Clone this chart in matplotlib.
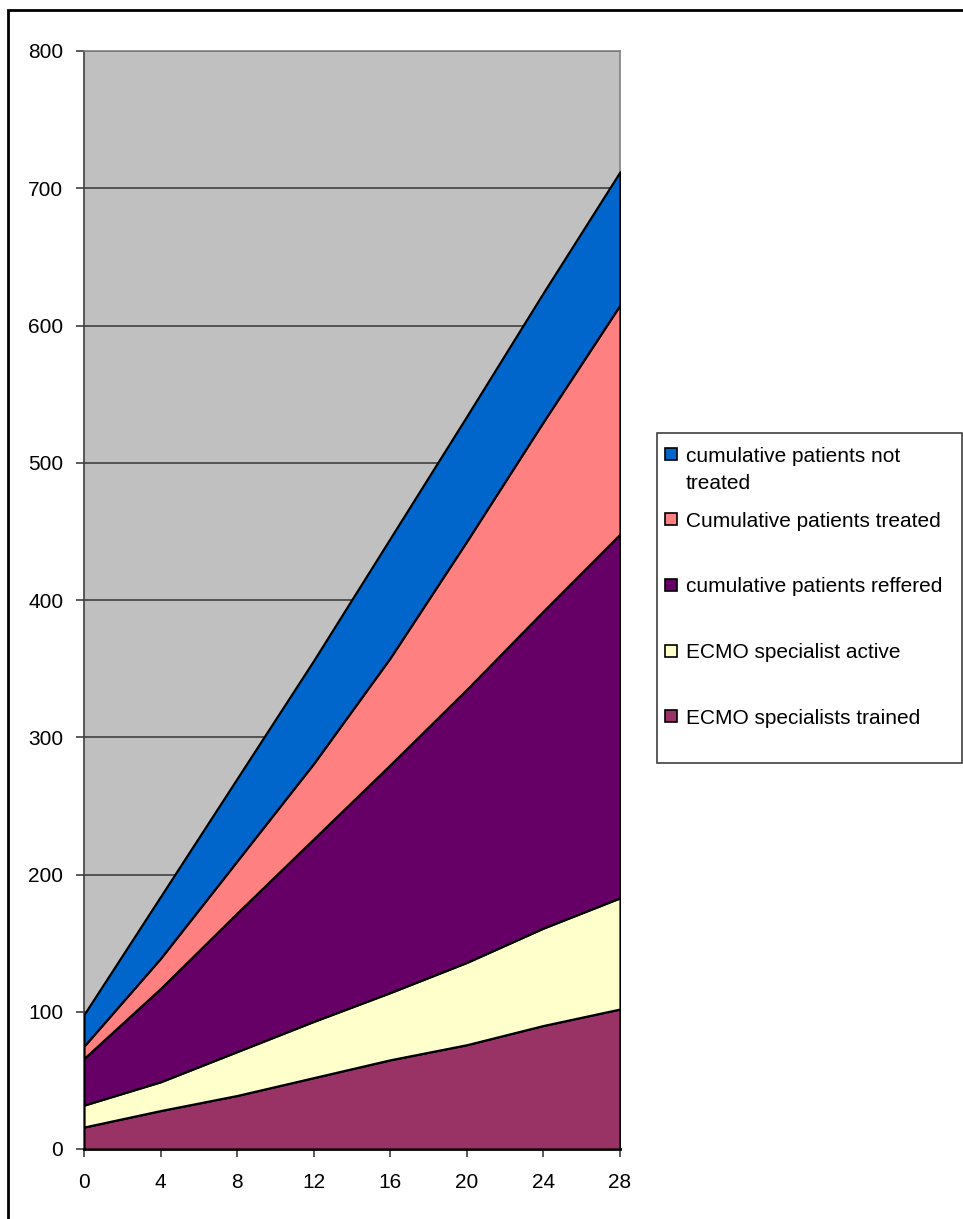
import matplotlib
matplotlib.use("Agg")
import matplotlib.pyplot as plt
from matplotlib.patches import Rectangle

plt.rcParams['font.family'] = ['Liberation Sans', 'DejaVu Sans']

# weeks along the x axis
weeks = [0, 4, 8, 12, 16, 20, 24, 28]

# stacked layers, bottom to top (each value is the layer's own thickness)
specialists_trained = [16, 28, 39, 52, 65, 76, 90, 102]
specialist_active = [16, 21, 32, 41, 49, 60, 71, 81]
patients_referred = [34, 68, 101, 133, 166, 199, 231, 265]
patients_treated = [9, 22, 38, 55, 78, 108, 138, 167]
patients_not_treated = [23, 45, 60, 75, 87, 91, 94, 97]

labels = ["ECMO specialists trained", "ECMO specialist active",
          "cumulative patients reffered", "Cumulative patients treated",
          "cumulative patients not\ntreated"]
colors = ["#993366", "#FFFFCC", "#660066", "#FF8080", "#0066CC"]

yticks = [0, 100, 200, 300, 400, 500, 600, 700, 800]
xticks = weeks

W, H = 963, 1219
fig = plt.figure(figsize=(W / 100, H / 100), dpi=100)

def fx(px):
    return px / W

def fy(py):
    return 1 - py / H

ax = fig.add_axes([fx(84), fy(1149), fx(620) - fx(84), fy(51) - fy(1149)])
ax.set_facecolor("#C0C0C0")

polys = ax.stackplot(weeks, specialists_trained, specialist_active,
                     patients_referred, patients_treated, patients_not_treated,
                     colors=colors, edgecolor="black", linewidth=1.6, zorder=3)

ax.set_xlim(0, 28)
ax.set_ylim(0, 800)
ax.set_xticks(xticks)
ax.set_yticks(yticks)
ax.grid(axis="y", color="#404040", linewidth=1.2, zorder=1)
ax.set_axisbelow(True)
ax.tick_params(axis="both", labelsize=15, direction="out", length=6,
               width=1.2, color="#404040")
ax.tick_params(axis="y", pad=9)
ax.tick_params(axis="x", pad=11)
for side in ["top", "right", "left"]:
    ax.spines[side].set_color("#808080")
    ax.spines[side].set_linewidth(1.2)
ax.spines["left"].set_color("#404040")
ax.spines["bottom"].set_color("black")
ax.spines["bottom"].set_linewidth(2)

# legend box drawn by hand, top entry first
fig.add_artist(Rectangle((fx(657), fy(763)), fx(962) - fx(657), fy(433) - fy(763),
                         transform=fig.transFigure, fill=False,
                         edgecolor="#404040", linewidth=1.2))
entry_y = [454, 519, 585, 651, 716]
for yc, lab, col in zip(entry_y, labels[::-1], colors[::-1]):
    fig.add_artist(Rectangle((fx(665), fy(yc + 6)), fx(677) - fx(665), fy(yc - 6) - fy(yc + 6),
                             transform=fig.transFigure, facecolor=col,
                             edgecolor="black", linewidth=1.2))
    for i, line in enumerate(lab.split("\n")):
        fig.text(fx(686), fy(yc + i * 27), line, fontsize=15,
                 va="center_baseline", ha="left")

# outer chart frame (only top and left edges fall inside the image)
fig.add_artist(Rectangle((fx(8), -0.1), 1.2, fy(10) + 0.1,
                         transform=fig.transFigure, fill=False,
                         edgecolor="black", linewidth=2))

fig.savefig("out.png", dpi=100)
